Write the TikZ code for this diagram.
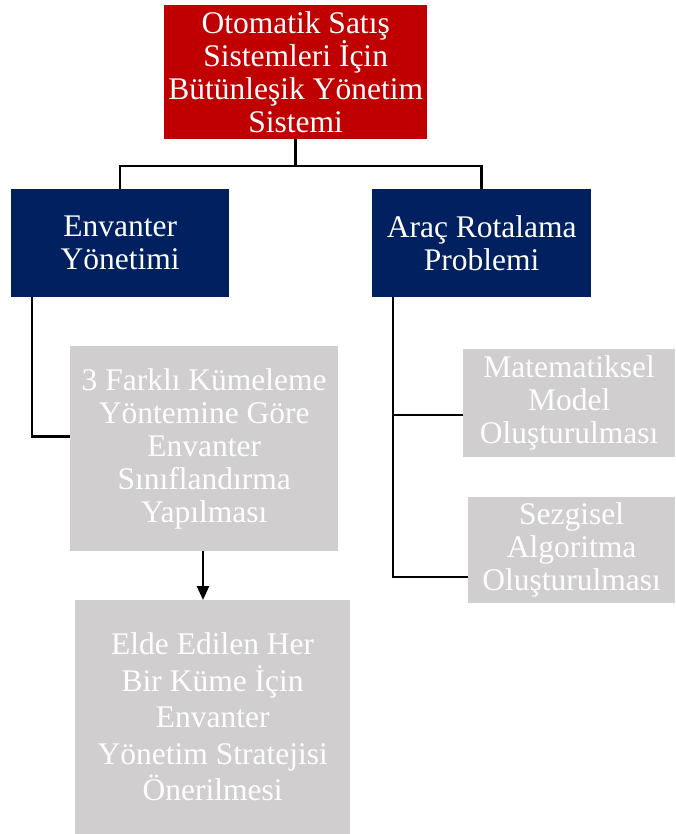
\documentclass[tikz,border=0pt]{standalone}
\usepackage{fontspec}
\setmainfont{Liberation Serif}
\usetikzlibrary{arrows.meta}
\definecolor{topred}{HTML}{C00000}
\definecolor{navy}{HTML}{002060}
\definecolor{boxgray}{HTML}{D0CECE}
\begin{document}
\begin{tikzpicture}[x=1pt,y=-1pt,
  box/.style={anchor=north west, inner sep=0pt, align=center, text=white,
    font=\fontsize{31.5}{33}\selectfont},
  redbox/.style={box, fill=topred},
  bluebox/.style={box, fill=navy},
  graybox/.style={box, fill=boxgray},
  conn/.style={line width=2.5pt},
  arr/.style={line width=2.5pt, -{Triangle[length=14pt,width=12pt]}}]
\useasboundingbox (0,0) rectangle (675,834);
\node[redbox, minimum width=263pt, minimum height=134pt] (top) at (164,5)
  {Otomatik Satış\\Sistemleri İçin\\Bütünleşik Yönetim\\Sistemi};
\node[bluebox, minimum width=218pt, minimum height=108pt] (env) at (11,189)
  {Envanter\\Yönetimi};
\node[bluebox, minimum width=219pt, minimum height=108pt] (arac) at (372,189)
  {Araç Rotalama\\Problemi};
\node[graybox, minimum width=268pt, minimum height=205pt] (g1) at (70,346)
  {3 Farklı Kümeleme\\Yöntemine Göre\\Envanter\\Sınıflandırma\\Yapılması};
\node[graybox, minimum width=275pt, minimum height=234pt,
  font=\fontsize{31.5}{36.5}\selectfont] (g2) at (75,600)
  {Elde Edilen Her\\Bir Küme İçin\\Envanter\\Yönetim Stratejisi\\Önerilmesi};
\node[graybox, minimum width=212pt, minimum height=108pt] (mat) at (463,349)
  {Matematiksel\\Model\\Oluşturulması};
\node[graybox, minimum width=207pt, minimum height=106pt] (sez) at (468,497)
  {Sezgisel\\Algoritma\\Oluşturulması};
\coordinate (j) at (top.south |- 0,166);
\draw[conn] (top.south) -- (j);
\draw[conn] (env.north) |- (j) -| (arac.north);
\draw[conn] ([xshift=21pt]env.south west) |- ([yshift=12pt]g1.west);
\draw[conn] ([xshift=21pt]arac.south west) |- ([yshift=-12pt]mat.west);
\draw[conn] ([xshift=21pt]arac.south west) |- ([yshift=-27pt]sez.west);
\draw[arr] (g1.south -| 203,0) -- (g2.north -| 203,0);
\end{tikzpicture}
\end{document}
